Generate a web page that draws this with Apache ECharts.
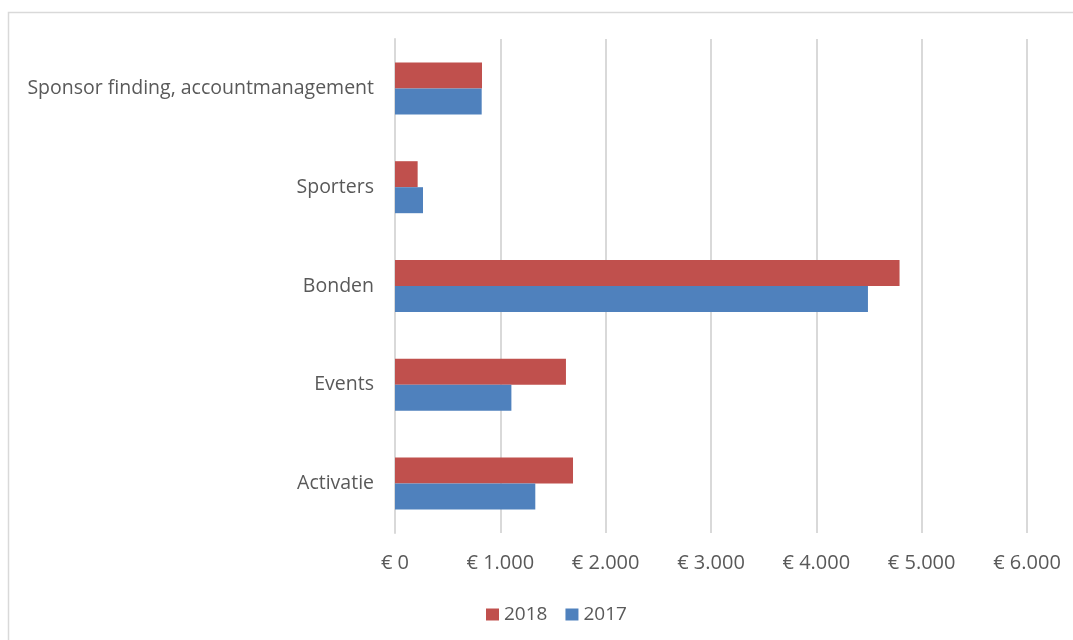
<!DOCTYPE html>
<html>
<head>
<meta charset="utf-8">
<script src="https://cdn.jsdelivr.net/npm/echarts@6/dist/echarts.min.js"></script>
<style>
html,body{margin:0;padding:0;background:#fff;}
#c{width:1073px;height:640px;}
</style>
</head>
<body>
<div id="c"></div>
<script>
const categories = ['Activatie', 'Events', 'Bonden', 'Sporters', 'Sponsor finding, accountmanagement'];
const values2018 = [1690, 1623, 4790, 215, 826];
const values2017 = [1332, 1105, 4490, 266, 823];
const xTicks = ['€ 0', '€ 1.000', '€ 2.000', '€ 3.000', '€ 4.000', '€ 5.000', '€ 6.000'];

const FONT = '"Open Sans", "Liberation Sans", sans-serif';
const chart = echarts.init(document.getElementById('c'), null, {renderer: 'canvas'});
chart.setOption({
  animation: false,
  textStyle: {fontFamily: FONT},
  graphic: [{
    type: 'rect', silent: true, z: -10,
    shape: {x: 8.5, y: 12.5, width: 1200, height: 800},
    style: {fill: '#ffffff', stroke: '#d9d9d9', lineWidth: 1.5}
  }],
  grid: {left: 395, right: 46, top: 39, bottom: 107, containLabel: false},
  legend: {
    data: ['2018', '2017'],
    left: 481, top: 600,
    itemWidth: 13, itemHeight: 12, itemGap: 18,
    icon: 'rect',
    textStyle: {color: '#595959', fontSize: 19, fontFamily: FONT}
  },
  xAxis: {
    type: 'value', min: 0, max: 6000, interval: 1000,
    axisLine: {show: false}, axisTick: {show: false},
    splitLine: {show: true, lineStyle: {color: '#d9d9d9', width: 2}},
    axisLabel: {
      color: '#595959', fontSize: 20, margin: 20, fontFamily: FONT,
      formatter: function (v) { return xTicks[Math.round(v / 1000)]; }
    }
  },
  yAxis: {
    type: 'category', data: categories,
    axisLine: {show: true, lineStyle: {color: '#d9d9d9', width: 2}},
    axisTick: {show: false},
    axisLabel: {color: '#595959', fontSize: 19.5, margin: 21, fontFamily: FONT}
  },
  series: [
    {name: '2018', type: 'bar', data: values2018, barWidth: 26, barGap: '0%',
     itemStyle: {color: '#C0504D'}},
    {name: '2017', type: 'bar', data: values2017, barWidth: 26, barGap: '0%',
     itemStyle: {color: '#4F81BD'}}
  ]
});
</script>
</body>
</html>
